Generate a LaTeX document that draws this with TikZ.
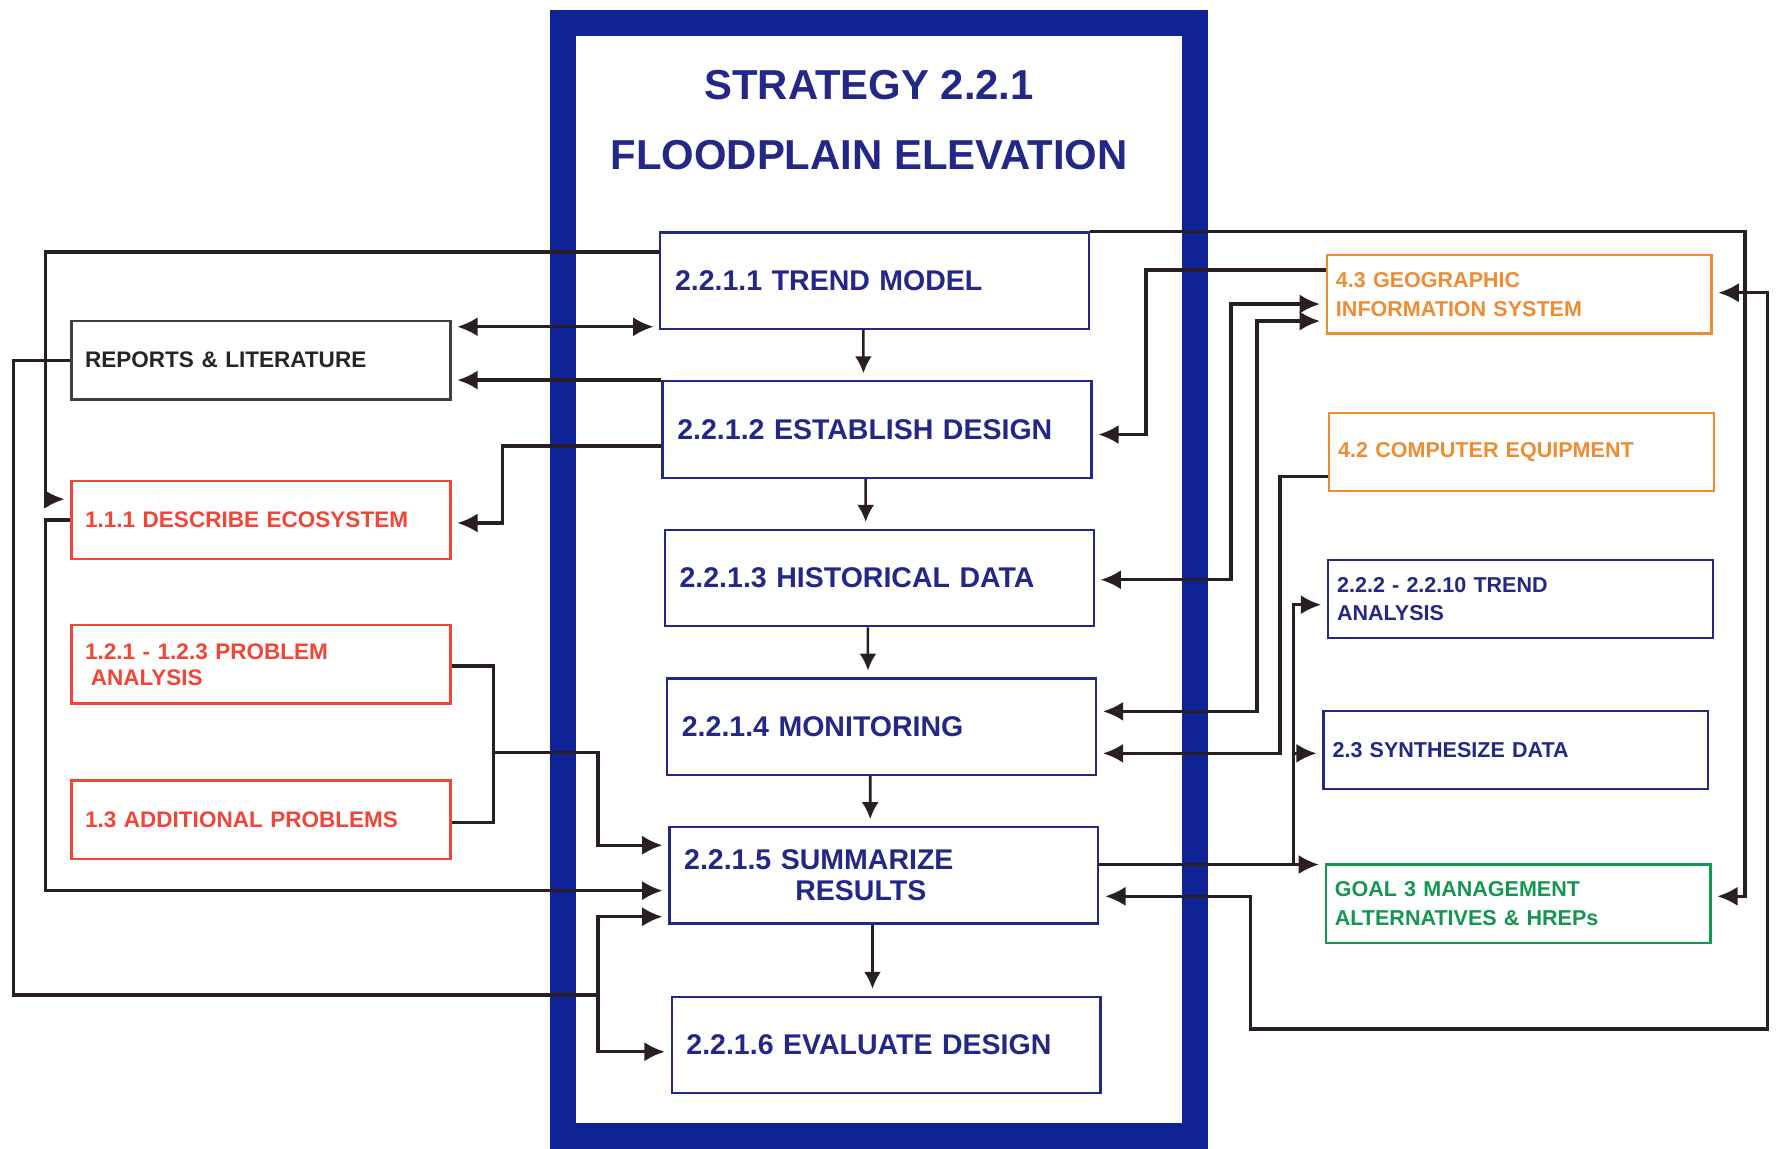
\documentclass[tikz,border=0pt]{standalone}
\usepackage{fontspec}
\setmainfont{Liberation Sans}
\usetikzlibrary{arrows.meta}

\definecolor{navy}{RGB}{35,40,135}
\definecolor{frameblue}{RGB}{15,35,150}
\definecolor{boxred}{RGB}{240,70,55}
\definecolor{boxorange}{RGB}{238,140,50}
\definecolor{boxgreen}{RGB}{20,150,80}
\definecolor{wire}{RGB}{40,30,35}

\begin{document}
\begin{tikzpicture}[x=0.2mm, y=-0.2mm, node distance=26.2mm,
    main/.style = {draw=navy, line width=0.4mm, fill=white, text=navy, minimum height=17mm, text width=70.4mm, inner xsep=2.6mm, align=left, font=\bfseries\fontsize{14.3}{15.3}\selectfont},
    side/.style = {draw, line width=0.4mm, fill=white, minimum height=13.8mm, text width=62mm, inner xsep=2.4mm, align=left, font=\bfseries\fontsize{11.3}{13}\selectfont},
    ext/.style = {draw, line width=0.4mm, fill=white, minimum height=13.8mm, text width=64.6mm, inner xsep=1.6mm, align=left, font=\bfseries\fontsize{10.8}{14.5}\selectfont},
    conn/.style = {draw=wire, line width=0.6mm},
    arr/.style = {conn, -{Latex[length=3.6mm,width=3.4mm]}, shorten >=1mm},
    dbl/.style = {conn, {Latex[length=3.6mm,width=3.4mm]}-{Latex[length=3.6mm,width=3.4mm]}, shorten >=1mm, shorten <=1mm},
    down/.style = {draw=wire, line width=0.45mm, -{Latex[length=3mm,width=3mm]}, shorten >=1.2mm}]
  \useasboundingbox (0,0) rectangle (1568,1012);

  % strategy frame
  \draw[frameblue, line width=4.6mm] (496.5,20) rectangle (1053.5,1001);
  \node[text=navy, align=center, font=\bfseries\fontsize{21}{35}\selectfont] (title) at (766,106) {STRATEGY 2.2.1\\FLOODPLAIN ELEVATION};

  % tasks
  \node[main] (tm) at (771,247.5) {2.2.1.1 TREND MODEL};
  \node[main] (ed) [below of=tm, xshift=0.4mm] {2.2.1.2 ESTABLISH DESIGN};
  \node[main] (hd) [below of=ed, xshift=0.4mm] {2.2.1.3 HISTORICAL DATA};
  \node[main] (mon) [below of=hd, xshift=0.4mm] {2.2.1.4 MONITORING};
  \node[main] (sr) [below of=mon, xshift=0.4mm] {2.2.1.5 SUMMARIZE\\\hspace*{19.6mm}RESULTS};
  \node[main] (ev) [below of=sr, node distance=29.9mm, xshift=0.4mm] {2.2.1.6 EVALUATE DESIGN};

  % left side
  \node[side, draw=black!75, text=black!85] (rl) at (230,317.5) {REPORTS \& LITERATURE};
  \node[side, draw=boxred, text=boxred] (de) at (230,458.5) {1.1.1 DESCRIBE ECOSYSTEM};
  \node[side, draw=boxred, text=boxred] (pa) at (230,585.5) {1.2.1 - 1.2.3 PROBLEM\\\hspace*{1mm}ANALYSIS};
  \node[side, draw=boxred, text=boxred] (ap) at (230,722.5) {1.3 ADDITIONAL PROBLEMS};

  % right side
  \node[ext, draw=boxorange, text=boxorange] (gis) at (1339,259.5) {4.3 GEOGRAPHIC\\INFORMATION SYSTEM};
  \node[ext, draw=boxorange, text=boxorange] (ce) at (1341,398.5) {4.2 COMPUTER EQUIPMENT};
  \node[ext, draw=navy, text=navy] (ta) at (1340,528) {2.2.2 - 2.2.10 TREND\\ANALYSIS};
  \node[ext, draw=navy, text=navy] (sd) at (1336,661) {2.3 SYNTHESIZE DATA};
  \node[ext, draw=boxgreen, text=boxgreen] (g3) at (1338,796.5) {GOAL 3 MANAGEMENT\\ALTERNATIVES \& HREPs};

  % sequence
  \draw[down] ([xshift=-2mm]tm.south) -- ([xshift=-2.4mm]ed.north);
  \draw[down] ([xshift=-2mm]ed.south) -- ([xshift=-2.4mm]hd.north);
  \draw[down] ([xshift=-2mm]hd.south) -- ([xshift=-2.4mm]mon.north);
  \draw[down] ([xshift=-2mm]mon.south) -- ([xshift=-2.4mm]sr.north);
  \draw[down] ([xshift=-2mm]sr.south) -- ([xshift=-2.4mm]ev.north);

  % left connectors
  \coordinate (jl) at (527,877);
  \coordinate (jp) at (435,663);
  \draw[arr] (tm.west |- 0,222) -| (40,440) -- (de.west |- 0,440);
  \draw[dbl] (rl.east |- 0,288) -- (tm.west |- 0,288);
  \draw[arr] (ed.north west) -- (rl.east |- ed.north west);
  \draw[arr] (ed.west |- 0,393) -| (443,461) -- (de.east |- 0,461);
  \draw[arr] (de.west) -| (40,785) -- (sr.west |- 0,785);
  \draw[conn] (rl.west) -| (12,877) -- (jl);
  \draw[arr] (jl) |- (sr.west |- 0,808);
  \draw[arr] (jl) |- (ev.west |- 0,927);
  \draw[conn] (pa.east |- 0,587) -| (jp) |- (ap.east |- 0,725);
  \draw[arr] (jp) -| (527,745) -- (sr.west |- 0,745);

  % right connectors
  \coordinate (jr) at (1140,762);
  \coordinate (js) at (1140,664);
  \draw[arr] (tm.north east) -| (1538,790) -- (g3.east |- 0,790);
  \draw[dbl] (sr.east |- 0,790) -| (1102,907) -| (1558,258) -- (gis.east |- 0,258);
  \draw[arr] (gis.west |- 0,238) -| (1010,383) -- (ed.east |- 0,383);
  \draw[dbl] (hd.east |- 0,511) -| (1085,268) -- (gis.west |- 0,268);
  \draw[dbl] (mon.east |- 0,627) -| (1108,283) -- (gis.west |- 0,283);
  \draw[arr] (ce.west |- 0,420) -| (1128,664) -- (mon.east |- 0,664);
  \draw[arr] (sr.east |- 0,762) -- (g3.west |- 0,762);
  \draw[arr] (jr) |- (ta.west |- 0,533);
  \draw[arr] (js) -- (sd.west |- 0,664);
\end{tikzpicture}
\end{document}
